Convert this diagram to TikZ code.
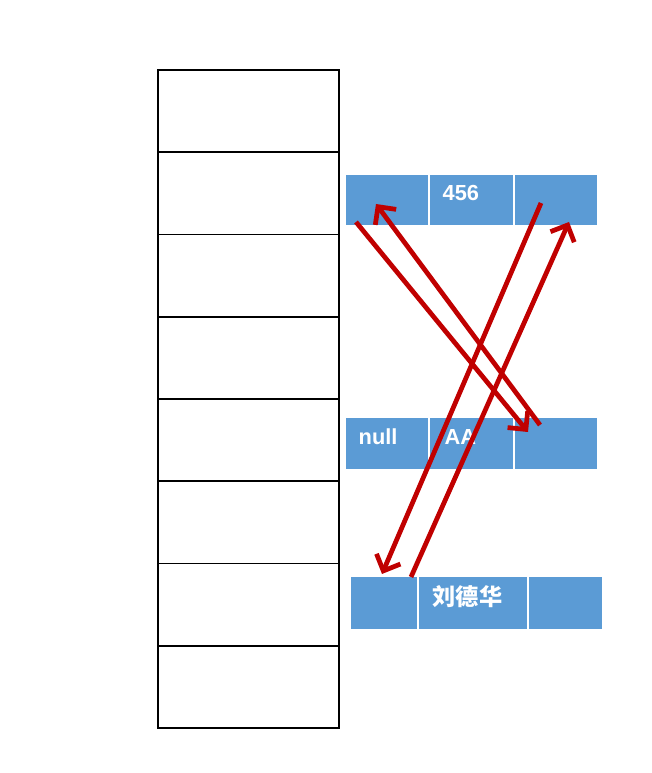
\documentclass[tikz,border=0pt]{standalone}
\usepackage{fontspec}
\newfontfamily\cellfont{Liberation Sans}
\newfontfamily\cjkfont{Noto Sans CJK SC}
\usepackage{tikz}
\usetikzlibrary{arrows.meta,calc,positioning}

\definecolor{cellblue}{HTML}{5B9BD5}
\definecolor{arrowred}{HTML}{C00000}

\tikzset
{
	stackcell/.style =
	{
		draw			= black,
		line width		= 0.5pt,
		minimum width	= 1.81cm,
		minimum height	= 0.8225cm,
		outer sep		= 0pt,
		inner sep		= 0pt
	},
	cell/.style =
	{
		fill			= cellblue,
		minimum height	= 0.50cm,
		outer sep		= 0pt,
		inner sep		= 0pt
	},
	celltext/.style =
	{
		anchor			= west,
		text			= white,
		inner sep		= 0pt,
		font			= \cellfont\bfseries\fontsize{6.2}{7}\selectfont
	},
	link/.style =
	{
		draw			= arrowred,
		line width		= 1.35pt,
		-{Straight Barb[length=1.3mm, width=2.6mm, line width=1.35pt]}
	}
}

\begin{document}
\begin{tikzpicture}
		%
		\useasboundingbox (0,0) rectangle (6.52,7.73);
		%
		% stack of eight empty slots
		\node[stackcell] (s1) at (2.485,6.61875) {};
		\foreach \i [count=\j from 2] in {1,...,7}
			\node[stackcell, below=0cm of s\i] (s\j) {};
		%
		% top row
		\node[cell, minimum width=0.82cm] (t1) at (3.87,5.73) {};
		\node[cell, minimum width=0.83cm, right=0.02cm of t1] (t2) {};
		\node[cell, minimum width=0.82cm, right=0.02cm of t2] (t3) {};
		%
		% middle row
		\node[cell, minimum width=0.82cm, minimum height=0.51cm] (m1) at (3.87,3.295) {};
		\node[cell, minimum width=0.83cm, minimum height=0.51cm, right=0.02cm of m1] (m2) {};
		\node[cell, minimum width=0.82cm, minimum height=0.51cm, right=0.02cm of m2] (m3) {};
		%
		% bottom row
		\node[cell, minimum width=0.66cm, minimum height=0.52cm] (b1) at (3.84,1.70) {};
		\node[cell, minimum width=1.08cm, minimum height=0.52cm, right=0.02cm of b1] (b2) {};
		\node[cell, minimum width=0.73cm, minimum height=0.52cm, right=0.02cm of b2] (b3) {};
		%
		% texts
		\node[celltext] (v456) at ($(t2.north west)+(0.12,-0.18)$) {456};
		\node[celltext] (vnull) at ($(m1.north west)+(0.12,-0.19)$) {null};
		\node[celltext] (vaa) at ($(m2.north west)+(0.14,-0.19)$) {AA};
		\node[celltext, font=\cjkfont\bfseries\fontsize{6.6}{7.5}\selectfont] (vname) at ($(b2.north west)+(0.13,-0.20)$) {刘德华};
		%
		% links
		\draw[link] ($(t1.south west)+(0.10,0.03)$) -- ($(m3.south west)+(0.13,0.37)$);
		\draw[link] ($(m3.south west)+(0.25,0.44)$) -- ($(t1.south west)+(0.30,0.21)$);
		\draw[link] ($(t3.south west)+(0.26,0.22)$) -- ($(b1.north west)+(0.31,0.03)$);
		\draw[link] ($(b1.north west)+(0.60,0.00)$) -- ($(t3.south west)+(0.54,0.03)$);
		%
	\end{tikzpicture}
\end{document}
